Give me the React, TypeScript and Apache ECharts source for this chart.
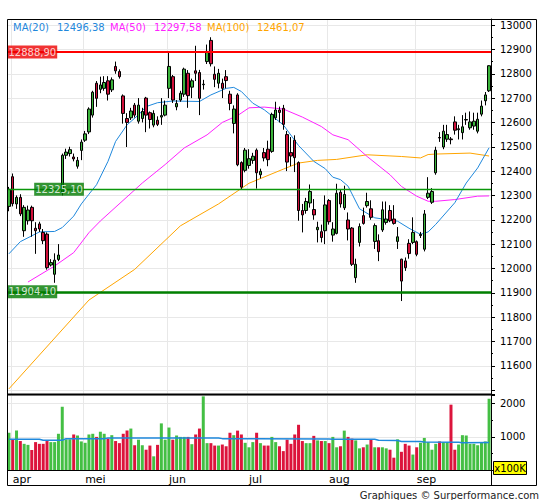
import React, { useEffect, useRef } from "react";
import * as echarts from "echarts";

// ---- data ----
const monthNames = ["apr", "mei", "jun", "jul", "aug", "sep"];
const monthStart = [1, 20, 42, 63, 84, 107];

const opens = [
  12255, 12377, 12265, 12292, 12155, 12196, 12251, 12165, 12183, 12148,
  12141, 12014, 11976, 12037, 12314, 12465, 12472, 12458, 12420, 12485,
  12527, 12561, 12630, 12761, 12736, 12740, 12771, 12734, 12830, 12809,
  12709, 12616, 12619, 12671, 12605, 12616, 12700, 12640, 12589, 12609,
  12622, 12630, 12740, 12788, 12664, 12692, 12716, 12802, 12745, 12812,
  12805, 12755, 12850, 12937, 12798, 12761, 12761, 12788, 12716, 12596,
  12713, 12435, 12403, 12423, 12444, 12486, 12385, 12476, 12490, 12481,
  12619, 12651, 12658, 12550, 12476, 12527, 12435, 12238, 12238, 12269,
  12242, 12159, 12151, 12155, 12279, 12137, 12144, 12313, 12249, 12199,
  12166, 11962, 12107, 12217, 12258, 12245, 12111, 12114, 12158, 12189,
  12238, 12203, 12111, 12038, 12031, 12103, 12107, 12110, 12135, 12079,
  12292, 12272, 12393, 12538, 12499, 12531, 12532, 12602, 12570, 12558,
  12610, 12578, 12585, 12564, 12634, 12689, 12730,
];
const closes = [
  12325, 12266, 12292, 12224, 12251, 12240, 12196, 12155, 12162, 12114,
  12003, 12024, 12034, 12055, 12465, 12478, 12488, 12450, 12444, 12519,
  12553, 12655, 12724, 12699, 12754, 12764, 12716, 12775, 12812, 12788,
  12637, 12600, 12647, 12630, 12671, 12645, 12630, 12612, 12637, 12592,
  12628, 12671, 12830, 12692, 12678, 12720, 12819, 12710, 12771, 12802,
  12699, 12757, 12892, 12841, 12777, 12802, 12740, 12772, 12678, 12655,
  12426, 12334, 12486, 12451, 12461, 12393, 12399, 12454, 12447, 12633,
  12651, 12641, 12592, 12437, 12462, 12455, 12238, 12220, 12275, 12316,
  12220, 12169, 12127, 12261, 12192, 12162, 12309, 12265, 12304, 12162,
  12017, 12017, 12172, 12185, 12275, 12210, 12176, 12069, 12241, 12203,
  12196, 12185, 12130, 11948, 12003, 12061, 12148, 12058, 12140, 12224,
  12309, 12316, 12486, 12536, 12564, 12550, 12529, 12568, 12574, 12582,
  12612, 12602, 12605, 12613, 12667, 12713, 12833,
];
const lows = [
  12235, 12255, 12245, 12215, 12130, 12180, 12130, 12060, 12150, 12100,
  11995, 12008, 11941, 12030, 12300, 12450, 12460, 12440, 12410, 12445,
  12520, 12552, 12620, 12664, 12720, 12730, 12690, 12725, 12800, 12780,
  12595, 12499, 12610, 12620, 12595, 12600, 12560, 12575, 12580, 12585,
  12590, 12625, 12700, 12680, 12650, 12685, 12705, 12660, 12700, 12770,
  12630, 12735, 12840, 12830, 12745, 12740, 12700, 12740, 12650, 12555,
  12420, 12325, 12395, 12410, 12430, 12328, 12370, 12440, 12420, 12475,
  12610, 12600, 12570, 12400, 12420, 12396, 12196, 12148, 12225, 12250,
  12200, 12107, 12107, 12100, 12180, 12110, 12140, 12250, 12240, 12115,
  12010, 11941, 12090, 12180, 12250, 12200, 12080, 12030, 12150, 12180,
  12190, 12180, 12080, 11866, 11990, 12040, 12100, 12050, 12125, 12070,
  12285, 12265, 12385, 12520, 12490, 12520, 12510, 12550, 12530, 12530,
  12590, 12570, 12570, 12555, 12625, 12670, 12725,
];
const highs = [
  12335, 12390, 12300, 12305, 12260, 12258, 12258, 12190, 12192, 12162,
  12148, 12038, 12062, 12100, 12472, 12492, 12500, 12472, 12458, 12530,
  12565, 12662, 12730, 12770, 12788, 12790, 12790, 12785, 12850, 12818,
  12715, 12638, 12660, 12680, 12700, 12660, 12705, 12645, 12650, 12625,
  12700, 12690, 12887, 12795, 12692, 12730, 12825, 12815, 12780, 12915,
  12816, 12775, 12920, 12950, 12830, 12820, 12780, 12815, 12730, 12670,
  12720, 12440, 12495, 12490, 12475, 12493, 12410, 12495, 12525, 12640,
  12685, 12665, 12672, 12565, 12540, 12547, 12440, 12265, 12290, 12345,
  12285, 12192, 12180, 12300, 12285, 12190, 12348, 12325, 12340, 12230,
  12170, 12040, 12185, 12250, 12311, 12280, 12185, 12140, 12275, 12275,
  12260, 12260, 12170, 12040, 12045, 12120, 12210, 12115, 12150, 12240,
  12375, 12330, 12500, 12560, 12590, 12590, 12540, 12625, 12590, 12630,
  12640, 12645, 12640, 12640, 12690, 12725, 12835,
];
// volume in units of 100K
const volumes = [
  1122, 913, 1186, 872, 788, 757, 600, 840, 788, 788,
  872, 840, 840, 1091, 1905, 924, 924, 1070, 1039, 861,
  819, 1070, 1091, 997, 1153, 1091, 945, 1049, 872, 809,
  1091, 1186, 1248, 746, 913, 746, 611, 736, 412, 757,
  1404, 913, 1279, 913, 1039, 997, 997, 997, 778, 1070,
  1248, 2218, 809, 809, 736, 736, 767, 715, 1122, 1049,
  1186, 1070, 819, 684, 840, 1122, 809, 736, 736, 997,
  840, 715, 569, 913, 788, 1070, 1362, 872, 809, 809,
  1028, 892, 872, 872, 809, 997, 684, 715, 1186, 997,
  945, 892, 652, 684, 767, 934, 684, 684, 684, 652,
  611, 371, 924, 548, 788, 736, 465, 684, 819, 966,
  840, 611, 788, 861, 840, 840, 1968, 611, 767, 1049,
  1039, 788, 788, 746, 840, 861, 2146,
];
// moving averages: [candle index, value]
const ma20 = [
  [0, 12060], [3, 12110], [8, 12150], [12, 12152], [14, 12168], [17, 12215], [19, 12265],
  [21, 12305], [23, 12344], [26, 12440], [28, 12522], [31, 12590], [34, 12631], [36, 12665],
  [39, 12681], [43, 12688], [50, 12686], [53, 12713], [57, 12740], [59, 12744], [61, 12727],
  [64, 12679], [67, 12652], [72, 12590], [76, 12505], [80, 12440], [83, 12410], [85, 12375],
  [87, 12365], [89, 12338], [92, 12245], [96, 12208], [99, 12201], [102, 12194], [105, 12165],
  [108, 12140], [110, 12150], [112, 12181], [117, 12270], [120, 12351], [123, 12413], [126, 12496],
];
const ma50 = [
  [5, 11944], [12, 12010], [17, 12065], [21, 12147], [24, 12195], [35, 12351], [41, 12427],
  [46, 12495], [52, 12549], [56, 12600], [60, 12628], [63, 12660], [67, 12663], [72, 12655],
  [77, 12622], [82, 12583], [85, 12549], [89, 12529], [94, 12460], [100, 12385], [103, 12337],
  [107, 12297], [110, 12276], [112, 12276], [117, 12283], [123, 12297], [126, 12298],
];
const ma100 = [
  [0, 11505], [21, 11870], [33, 11996], [45, 12175], [55, 12265], [63, 12350], [72, 12408],
  [76, 12433], [81, 12444], [86, 12448], [94, 12467], [103, 12460], [108, 12454], [110, 12468],
  [112, 12470], [121, 12474], [126, 12462],
];
const volMA = [
  [0, 925], [8, 925], [9, 895], [14, 895], [15, 945], [25, 945], [26, 965], [55, 965],
  [56, 945], [84, 930], [85, 925], [96, 925], [97, 895], [102, 890], [103, 860], [108, 860],
  [109, 840], [118, 835], [119, 820], [126, 830],
];
const levels = [12888.9, 12325.1, 11904.1];
const levelLabelIdx = [0, 7, 0];
const legendNames = ["MA(20)", "MA(50)", "MA(100)"];
const legendValues = ["12496,38", "12297,58", "12461,07"];

// ---- styles ----
const UP = "#3bb33b";
const DOWN = "#d0103a";
const VOL_UP = "#44bf44";
const VOL_DOWN = "#dc143c";
const C20 = "#1f88dc";
const C50 = "#ff22ff";
const C100 = "#ffa500";
const GRID = "#e8e8e8";
const FONT = '"DejaVu Sans", Verdana, sans-serif';
const levelColors = ["#ff0000", "#0a960a", "#008000"];
const levelWidths = [2, 1.3, 2.5];
const levelBoxColors = ["#ee0000", "#007a00", "#007a00"];

export default function App() {
  const ref = useRef<HTMLDivElement>(null);
  useEffect(() => {
    if (!ref.current) return;
    const chart = echarts.init(ref.current, undefined, { renderer: "svg" });
    const cats = opens.map((_, i) => String(i));
    const isStart = (i: number) => monthStart.indexOf(i) >= 0;
    const candleData = opens.map((o, i) => [o, closes[i], lows[i], highs[i]]);
    const volData = volumes.map((v, i) => ({
      value: v,
      itemStyle: { color: closes[i] >= opens[i] ? VOL_UP : VOL_DOWN },
    }));
    const fmt = (v: number) => v.toFixed(2).replace(".", ",");
    const legendX = [[13, 57], [110, 154], [207, 257]];
    const legendColors = [C20, C50, C100];

    const graphic: any[] = [
      { type: "rect", silent: true, z: 50, shape: { x: 7.5, y: 19.5, width: 529, height: 466 }, style: { fill: "none", stroke: "#000", lineWidth: 1 } },
      { type: "line", silent: true, z: 50, shape: { x1: 7, y1: 394.5, x2: 491, y2: 394.5 }, style: { stroke: "#000", lineWidth: 2 } },
      { type: "line", silent: true, z: 50, shape: { x1: 7, y1: 470.5, x2: 491, y2: 470.5 }, style: { stroke: "#000", lineWidth: 1 } },
      { type: "line", silent: true, z: 50, shape: { x1: 491.5, y1: 19, x2: 491.5, y2: 486 }, style: { stroke: "#000", lineWidth: 1 } },
      { type: "rect", silent: true, z: 60, shape: { x: 493.5, y: 461.5, width: 33, height: 13 }, style: { fill: "#ffff00", stroke: "#000", lineWidth: 1 } },
      { type: "text", silent: true, z: 61, x: 510, y: 468.5, style: { text: "x100K", font: `10px ${FONT}`, fill: "#000", align: "center", verticalAlign: "middle" } },
      { type: "text", silent: true, z: 61, x: 539, y: 495, style: { text: "Graphiques © Surperformance.com", font: `10px ${FONT}`, fill: "#222", align: "right", verticalAlign: "middle" } },
    ];
    legendNames.forEach((n, k) => {
      graphic.push({ type: "text", silent: true, z: 61, x: legendX[k][0], y: 27, style: { text: n, font: `10px ${FONT}`, fill: legendColors[k], verticalAlign: "middle" } });
      graphic.push({ type: "text", silent: true, z: 61, x: legendX[k][1], y: 27, style: { text: legendValues[k], font: `10px ${FONT}`, fill: legendColors[k], verticalAlign: "middle" } });
    });

    const option: any = {
      animation: false,
      backgroundColor: "#fff",
      textStyle: { fontFamily: FONT },
      grid: [
        { left: 7, right: 54, top: 19, height: 375 },
        { left: 7, right: 54, top: 395, height: 75 },
      ],
      xAxis: [
        {
          type: "category", gridIndex: 0, data: cats, boundaryGap: true,
          axisLine: { show: false }, axisTick: { show: false }, axisLabel: { show: false },
          splitLine: { show: true, interval: (i: number) => isStart(i), lineStyle: { color: GRID, width: 1 } },
        },
        {
          type: "category", gridIndex: 1, data: cats, boundaryGap: true,
          axisLine: { show: false }, axisTick: { show: false },
          axisLabel: {
            show: true, interval: (i: number) => isStart(i),
            formatter: (_v: string, i: number) => monthNames[monthStart.indexOf(i)] || "",
            align: "left", margin: 4, fontSize: 11, color: "#000", fontFamily: FONT,
          },
          splitLine: { show: true, interval: (i: number) => isStart(i), lineStyle: { color: GRID, width: 1 } },
        },
      ],
      yAxis: [
        {
          type: "value", gridIndex: 0, position: "right", min: 11484, max: 13025, splitNumber: 15,
          axisLine: { show: true, lineStyle: { color: "#000" } },
          axisTick: { show: true, length: 4, lineStyle: { color: "#000" } },
          minorTick: { show: true, splitNumber: 2, length: 2, lineStyle: { color: "#000" } },
          axisLabel: {
            margin: 9, fontSize: 10, color: "#000", fontFamily: FONT,
            formatter: (v: number) => (Math.abs(v % 100) < 0.001 && v > 11550 ? String(v) : ""),
          },
          splitLine: { show: true, lineStyle: { color: GRID, width: 1 } },
        },
        {
          type: "value", gridIndex: 1, position: "right", min: 0, max: 2259, splitNumber: 2,
          axisLine: { show: true, lineStyle: { color: "#000" } },
          axisTick: { show: true, length: 4, lineStyle: { color: "#000" } },
          minorTick: { show: true, splitNumber: 2, length: 2, lineStyle: { color: "#000" } },
          axisLabel: {
            margin: 9, fontSize: 10, color: "#000", fontFamily: FONT,
            formatter: (v: number) => (v === 1000 || v === 2000 ? String(v) : ""),
          },
          splitLine: { show: true, lineStyle: { color: GRID, width: 1 } },
        },
      ],
      series: [
        {
          type: "line", xAxisIndex: 0, yAxisIndex: 0, data: ma100, symbol: "none", silent: true,
          lineStyle: { color: C100, width: 1 }, z: 2,
        },
        {
          type: "line", xAxisIndex: 0, yAxisIndex: 0, data: ma50, symbol: "none", silent: true,
          lineStyle: { color: C50, width: 1 }, z: 2,
        },
        {
          type: "line", xAxisIndex: 0, yAxisIndex: 0, data: ma20, symbol: "none", silent: true,
          lineStyle: { color: C20, width: 1 }, z: 2,
        },
        {
          type: "candlestick", xAxisIndex: 0, yAxisIndex: 0, data: candleData, barWidth: 3, z: 3,
          itemStyle: {
            color: UP, color0: DOWN, borderColor: "#000", borderColor0: "#000",
            borderColorDoji: "#000", borderWidth: 1,
          },
          markLine: {
            silent: true, symbol: ["none", "none"], label: { show: false }, z: 4,
            data: levels.map((v, k) => ({
              yAxis: v,
              lineStyle: { color: levelColors[k], width: levelWidths[k], type: "solid", opacity: 1 },
            })),
          },
        },
        {
          type: "scatter", xAxisIndex: 0, yAxisIndex: 0, symbol: "rect", symbolSize: 1, silent: true, z: 10,
          itemStyle: { color: "rgba(0,0,0,0)" },
          data: levels.map((v, k) => ({
            value: [levelLabelIdx[k], v],
            label: {
              show: true, position: "inside", align: "left", verticalAlign: "middle",
              formatter: fmt(v), color: "#fff", backgroundColor: levelBoxColors[k],
              padding: [2, 1, 1, 1], fontSize: 10, fontFamily: FONT, offset: [-1.4, 0],
            },
          })),
        },
        {
          type: "bar", xAxisIndex: 1, yAxisIndex: 1, data: volData, barWidth: 3, silent: true,
        },
        {
          type: "line", xAxisIndex: 1, yAxisIndex: 1, data: volMA, symbol: "none", silent: true,
          lineStyle: { color: C20, width: 1.5 }, z: 5,
        },
      ],
      graphic,
    };
    chart.setOption(option);
    return () => chart.dispose();
  }, []);
  return (
    <div
      ref={ref}
      style={{ position: "absolute", left: 0, top: 0, width: 545, height: 500, background: "#fff" }}
    />
  );
}
